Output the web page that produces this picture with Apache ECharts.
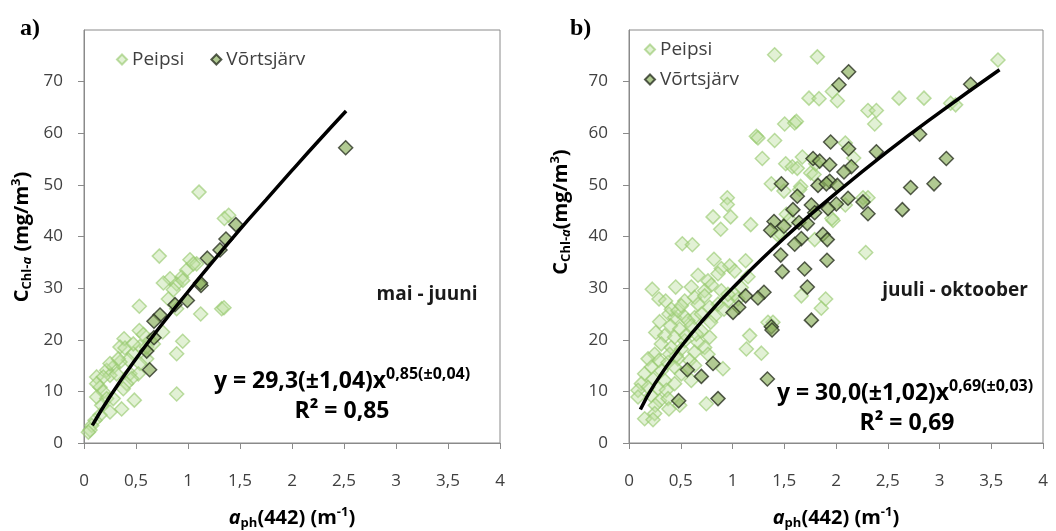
<!DOCTYPE html>
<html><head><meta charset="utf-8">
<script src="https://cdn.jsdelivr.net/npm/echarts@6/dist/echarts.min.js"></script>
<style>html,body{margin:0;padding:0;background:#fff}#c{width:1056px;height:531px}</style>
</head><body><div id="c"></div><script>
// ---------- data ----------
const seriesNames = ['Peipsi', 'Võrtsjärv'];
const periodLabels = ['mai - juuni', 'juuli - oktoober'];
const xTickValues = [0, 0.5, 1, 1.5, 2, 2.5, 3, 3.5, 4];
const yTickValues = [0, 10, 20, 30, 40, 50, 60, 70];

const peipsiA = [
 [1.106,48.6],[1.391,44.1],[0.724,36.2],[1.019,35.5],[1.083,34.7],[0.987,33.5],[0.939,32.1],[0.827,31.8],
 [0.763,31.0],[0.891,30.8],[0.859,29.7],[0.811,27.9],[0.532,26.5],[1.324,26.0],[1.346,26.2],[1.122,25.0],
 [0.891,26.0],[0.532,21.8],[0.756,21.5],[0.949,19.7],[0.385,20.2],[0.346,18.6],[0.394,18.4],[0.571,21.0],
 [0.635,19.9],[0.891,17.3],[0.891,9.5],[0.538,18.7],[0.474,17.3],[0.426,16.1],[0.346,15.7],[0.603,16.3],
 [0.538,15.4],[0.282,14.7],[0.218,14.1],[0.25,13.1],[0.122,12.8],[0.186,12.8],[0.314,13.4],[0.442,13.4],
 [0.522,13.4],[0.458,12.5],[0.41,11.5],[0.378,10.5],[0.154,10.8],[0.186,9.9],[0.122,8.9],[0.218,8.6],
 [0.282,8.6],[0.484,8.3],[0.17,7.3],[0.362,6.6],[0.25,6.0],[0.154,5.4],[0.106,4.4],[0.074,3.4],
 [0.058,2.5],[0.042,2.1],[0.25,15.4],[0.33,16.3],[0.603,18.6],[0.667,19.2],[1.051,34.7],[0.474,19.2],
 [0.122,11.5],[1.35,43.5],[0.95,31.5]
];
const vortsA = [
 [2.516,57.2],[1.46,42.3],[1.365,39.5],[1.308,37.4],[1.186,35.8],[1.125,30.5],[0.994,27.6],[0.875,26.8],
 [0.731,24.8],[0.673,23.6],[0.673,20.4],[0.603,17.8],[0.631,14.2],[1.12,31.0]
];
const fitA = [[0.08,3.4],[0.25,9.0],[0.5,16.3],[0.75,23.0],[1,29.3],[1.25,35.4],[1.5,41.4],[1.75,47.1],[2,52.8],[2.25,58.4],[2.52,64.3]];

const peipsiB = [
 [1.407,75.2],[1.82,74.8],[3.565,74.2],[1.739,66.8],[1.836,66.7],[1.965,68.1],[2.013,66.3],[2.609,66.8],
 [2.85,66.8],[3.108,65.8],[3.156,65.5],[2.309,64.4],[2.39,64.4],[2.374,61.8],[1.504,61.8],[1.601,62.0],
 [1.617,62.3],[1.23,59.4],[1.246,59.1],[1.407,58.6],[2.09,58.1],[2.171,55.2],[1.288,55.1],[1.675,55.4],
 [1.514,54.1],[1.578,53.5],[1.626,53.2],[1.755,52.3],[1.788,52.0],[1.375,50.2],[1.659,49.7],[1.497,48.8],
 [0.95,47.5],[0.95,46.2],[2.309,47.5],[0.812,43.8],[0.982,43.8],[1.176,42.3],[1.971,43.1],[0.886,41.4],
 [1.433,40.4],[1.794,39.4],[0.515,38.6],[0.612,38.4],[2.287,36.9],[0.821,35.6],[1.127,35.3],[0.973,34.3],
 [0.892,33.8],[1.021,33.3],[0.86,32.8],[0.667,32.5],[0.763,31.4],[1.15,32.2],[0.796,30.6],[0.225,29.8],
 [0.451,30.2],[0.602,30.2],[0.731,29.5],[0.892,29.5],[1.665,28.5],[1.9,27.9],[1.858,26.1],[0.29,27.9],
 [0.354,27.5],[0.538,27.5],[0.634,28.2],[0.731,28.5],[0.956,27.5],[1.053,27.9],[1.021,28.8],[0.86,26.9],
 [0.779,26.3],[0.386,25.0],[0.441,24.3],[0.531,24.6],[0.634,24.3],[0.57,23.7],[0.699,25.0],[0.828,24.6],
 [0.918,25.9],[0.789,23.4],[0.296,23.5],[0.402,22.7],[0.49,22.1],[0.602,22.7],[0.699,21.7],[0.258,21.4],
 [0.345,20.8],[0.441,20.5],[0.538,19.8],[0.667,19.5],[0.779,20.5],[1.391,23.4],[1.166,20.8],[1.134,18.2],
 [1.279,17.4],[0.312,19.2],[0.409,18.5],[0.506,18.2],[0.634,17.6],[0.731,18.5],[0.763,17.2],[0.248,17.2],
 [0.184,16.3],[0.29,16.0],[0.377,15.6],[0.473,16.3],[0.586,16.0],[0.216,14.7],[0.312,14.0],[0.441,14.7],
 [0.506,13.4],[0.634,15.0],[0.908,14.4],[0.151,13.4],[0.232,12.4],[0.345,12.1],[0.441,11.5],[0.602,12.1],
 [0.119,11.5],[0.184,10.8],[0.28,10.5],[0.361,10.2],[0.087,10.2],[0.087,8.9],[0.216,9.2],[0.296,8.2],
 [0.377,8.6],[0.49,7.3],[0.254,7.3],[0.386,6.6],[0.248,5.7],[0.151,4.7],[0.232,4.5],[0.747,7.6],
 [1.343,23.4],[0.956,28.8],[1.085,30.1],[0.409,25.9],[0.473,25.6],[0.506,26.6],[0.667,26.9],[0.393,17.2],
 [0.457,16.9],[0.548,20.8],[0.65,21.1],[1.52,44.3],[1.552,43.3],[1.472,40.4],[2.261,47.5],[2.09,46.1],
 [1.649,49.1],[1.804,54.1],[1.96,43.5]
];
const vortsB = [
 [2.122,71.9],[2.029,69.4],[3.301,69.5],[2.808,59.8],[1.948,58.3],[2.122,57.0],[2.39,56.4],[3.066,55.1],
 [1.778,55.1],[1.842,54.6],[1.939,53.9],[2.148,53.5],[2.077,52.5],[1.472,50.2],[1.826,49.9],[1.939,50.7],
 [1.907,50.2],[2.013,49.9],[2.721,49.5],[2.947,50.2],[1.626,47.8],[2.116,47.4],[2.261,46.7],[2.003,46.3],
 [1.923,45.4],[2.309,44.4],[2.641,45.2],[1.584,45.2],[1.762,46.1],[1.794,44.6],[1.401,42.9],[1.642,42.7],
 [1.497,42.0],[1.369,41.2],[1.723,42.5],[1.874,40.4],[1.916,39.4],[1.665,39.6],[1.601,38.5],[1.466,36.4],
 [1.913,35.4],[1.481,33.2],[1.697,33.7],[1.723,30.2],[1.762,23.8],[1.304,29.2],[1.246,28.1],[1.127,28.5],
 [1.06,26.3],[1.005,25.3],[1.375,22.5],[1.382,21.9],[0.812,15.4],[0.564,14.2],[0.699,12.9],[1.337,12.4],
 [0.48,8.2],[0.86,8.6]
];
const fitB = [[0.11,6.5],[0.25,11.5],[0.5,18.6],[0.75,24.6],[1,30.0],[1.5,39.7],[2,48.4],[2.5,56.5],[3,64.0],[3.58,72.3]];

// ---------- styles ----------
const FONT = 'Open Sans';
const peipsiStyle = {color:'rgba(190,222,160,0.55)', borderColor:'rgba(150,200,110,0.8)', borderWidth:1.5};
const vortsStyle = {color:'rgba(140,178,95,0.85)', borderColor:'#2a3222', borderWidth:1.5};

function xAxisCfg(gi){
  return {gridIndex:gi, type:'value', min:0, max:4, interval:0.5,
    axisLine:{show:true, lineStyle:{color:'#8a8a8a'}},
    axisTick:{show:true, length:6, lineStyle:{color:'#8a8a8a'}},
    axisLabel:{margin:30, color:'#404040', fontSize:17, fontFamily:FONT,
      formatter:v=>String(v).replace('.',',')},
    splitLine:{show:false}};
}
function yAxisCfg(gi){
  return {gridIndex:gi, type:'value', min:0, max:80, interval:10,
    axisLine:{show:true, lineStyle:{color:'#8a8a8a'}},
    axisTick:{show:true, length:6, lineStyle:{color:'#8a8a8a'}},
    axisLabel:{margin:21, color:'#404040', fontSize:17, fontFamily:FONT, showMaxLabel:false},
    splitLine:{show:false}};
}
function scatter(name, data, gi, style){
  return {name, type:'scatter', xAxisIndex:gi, yAxisIndex:gi, data, symbol:'diamond', symbolSize:14,
    itemStyle:style, z: name===seriesNames[1]?3:2};
}
function fitLine(data, gi){
  return {type:'line', xAxisIndex:gi, yAxisIndex:gi, data, smooth:true, showSymbol:false,
    lineStyle:{color:'#000', width:3.5}, z:5, silent:true};
}
const richBase = {
  b:{fontSize:20, fontWeight:'bold', fontFamily:FONT, color:'#1a1a1a'},
  bi:{fontSize:20, fontWeight:'bold', fontStyle:'italic', fontFamily:FONT, color:'#1a1a1a'},
  s:{fontSize:13, fontWeight:'bold', fontFamily:FONT, color:'#1a1a1a', padding:[10,0,0,0]},
  si:{fontSize:13, fontWeight:'bold', fontStyle:'italic', fontFamily:FONT, color:'#1a1a1a', padding:[10,0,0,0]},
  p:{fontSize:13, fontWeight:'bold', fontFamily:FONT, color:'#1a1a1a', padding:[0,0,11,0]}
};
const eqRich = {
  e:{fontSize:23, fontWeight:'bold', fontFamily:FONT, color:'#1a1a1a'},
  u:{fontSize:16, fontFamily:FONT, fontWeight:'bold', color:'#1a1a1a', padding:[0,0,13,0]}
};
function txt(x, y, text, rich, rot){
  return {type:'text', x, y, rotation:rot||0, z:10,
    style:{text, rich, textAlign:'center', textVerticalAlign:'middle'}};
}

const chart = echarts.init(document.getElementById('c'), null, {renderer:'canvas'});
chart.setOption({
  animation:false,
  backgroundColor:'#fff',
  grid:[
    {left:84, top:30, width:416, height:413, show:true, borderColor:'#8a8a8a', borderWidth:1},
    {left:629, top:30, width:414, height:413, show:true, borderColor:'#8a8a8a', borderWidth:1}
  ],
  xAxis:[xAxisCfg(0), xAxisCfg(1)],
  yAxis:[yAxisCfg(0), yAxisCfg(1)],
  legend:[
    {data:seriesNames, left:111, top:45, orient:'horizontal', icon:'diamond', itemWidth:10, itemHeight:10,
     itemGap:26, textStyle:{fontSize:19, color:'#404040', fontFamily:FONT}},
    {data:seriesNames, left:639, top:35, orient:'vertical', icon:'diamond', itemWidth:10, itemHeight:10,
     itemGap:11, textStyle:{fontSize:19, color:'#404040', fontFamily:FONT}}
  ],
  series:[
    scatter(seriesNames[0], peipsiA, 0, peipsiStyle),
    scatter(seriesNames[1], vortsA, 0, vortsStyle),
    fitLine(fitA, 0),
    scatter(seriesNames[0], peipsiB, 1, peipsiStyle),
    scatter(seriesNames[1], vortsB, 1, vortsStyle),
    fitLine(fitB, 1)
  ],
  graphic:[
    {type:'text', left:20, top:17, style:{text:'a)', font:'bold 24px "Liberation Serif"', fill:'#000'}},
    {type:'text', left:570, top:17, style:{text:'b)', font:'bold 24px "Liberation Serif"', fill:'#000'}},
    txt(22, 237, '{b|C}{s|Chl-}{si|a}{b| (mg/m}{p|3}{b|)}', richBase, Math.PI/2),
    txt(561, 212, '{b|C}{s|Chl-}{si|a}{b|(mg/m}{p|3}{b|)}', richBase, Math.PI/2),
    txt(292, 518, '{bi|a}{s|ph}{b|(442) (m}{p|-1}{b|)}', richBase),
    txt(836, 518, '{bi|a}{s|ph}{b|(442) (m}{p|-1}{b|)}', richBase),
    {type:'text', x:427, y:295, style:{text:periodLabels[0], font:'bold 19px "Open Sans"', fill:'#1a1a1a', textAlign:'center', textVerticalAlign:'middle'}},
    {type:'text', x:955, y:291, style:{text:periodLabels[1], font:'bold 19px "Open Sans"', fill:'#1a1a1a', textAlign:'center', textVerticalAlign:'middle'}},
    txt(342, 381, '{e|y = 29,3(±1,04)x}{u|0,85(±0,04)}', eqRich),
    txt(342, 411, '{e|R² = 0,85}', eqRich),
    txt(905, 393, '{e|y = 30,0(±1,02)x}{u|0,69(±0,03)}', eqRich),
    txt(907, 423, '{e|R² = 0,69}', eqRich)
  ]
});
</script></body></html>
